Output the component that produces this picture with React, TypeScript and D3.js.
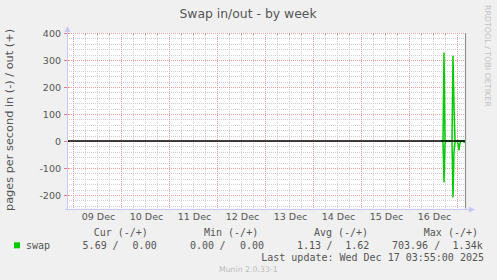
import React from "react";
import * as d3 from "d3";

const W = 497;
const H = 280;

// ---- data ----
const chartTitle = "Swap in/out - by week";
const yAxisTitle = "pages per second in (-) / out (+)";
const watermark = "RRDTOOL / TOBI OETIKER";
const footer = "Munin 2.0.33-1";
const lastUpdate = "Last update: Wed Dec 17 03:55:00 2025";

const sampleTimes = [
  "2025-12-16T16:00Z", "2025-12-16T16:30Z", "2025-12-16T17:00Z", "2025-12-16T17:30Z",
  "2025-12-16T18:00Z", "2025-12-16T18:30Z", "2025-12-16T19:00Z", "2025-12-16T19:30Z",
  "2025-12-16T20:00Z", "2025-12-16T20:30Z", "2025-12-16T21:00Z", "2025-12-16T21:30Z",
  "2025-12-16T22:00Z", "2025-12-16T22:30Z", "2025-12-16T23:00Z", "2025-12-16T23:30Z",
  "2025-12-17T00:00Z", "2025-12-17T00:30Z", "2025-12-17T01:00Z", "2025-12-17T01:30Z",
  "2025-12-17T02:00Z", "2025-12-17T02:30Z", "2025-12-17T03:00Z", "2025-12-17T03:30Z",
  "2025-12-17T04:00Z",
];
const swapOut = [
  0, 0, 0, 328, 0, 0, 0, 0, 0, 0, 0, 0, 316, 130, 0, 0, 0, 0, 0, 0, 0, 0, 0, 0, 0,
];
const swapIn = [
  0, 0, 0, 154, 10, 0, 0, 0, 0, 0, 0, 0, 209, 40, 5, 0, 0, 8, 35, 8, 0, 0, 0, 5, 5,
];

const yTickValues = [400, 300, 200, 100, 0, -100, -200];
const xTickLabels = ["09 Dec", "10 Dec", "11 Dec", "12 Dec", "13 Dec", "14 Dec", "15 Dec", "16 Dec"];

const legendHeaders = ["Cur (-/+)", "Min (-/+)", "Avg (-/+)", "Max (-/+)"];
const legendIn = ["5.69", "0.00", "1.13", "703.96"];
const legendOut = ["0.00", "0.00", "1.62", "1.34k"];

// ---- layout ----
const L = 67, R = 467, T = 33, B = 208.5;
const xStart = new Date("2025-12-08T21:00Z");
const xEnd = new Date("2025-12-17T05:00Z");

const x = d3.scaleUtc().domain([xStart, xEnd]).range([L, R]);
const y = d3.scaleLinear().domain([-250, 400]).range([B, T]);

const mono = "'DejaVu Sans Mono', monospace";
const sans = "'DejaVu Sans', sans-serif";
const textCol = "#555555";

export default function App() {
  const times = sampleTimes.map((s) => new Date(s));
  const outPts: [number, number][] = times.map((t, i) => [x(t), y(swapOut[i])]);
  const inPts: [number, number][] = times.map((t, i) => [x(t), y(-swapIn[i])]);
  const line = d3.line();

  const minorY = d3.range(-240, 401, 20).filter((v) => v % 100 !== 0);
  const majorY = yTickValues;
  const days = d3.utcDay.range(d3.utcDay.ceil(xStart), xEnd);
  const sixH = d3.utcHour.every(6)!.range(xStart, xEnd).filter((d) => d.getUTCHours() !== 0);
  const noons = days.slice(0, xTickLabels.length).map((d) => d3.utcHour.offset(d, 12));

  const inX = [82.6, 190.0, 297.0, 392.0];
  const slashX = [112.6, 219.4, 326.6, 434.3];
  const outX = [132.6, 240.0, 345.3, 452.6];
  const headX = [93.7, 204.0, 313.9, 423.8];

  return (
    <svg width={W} height={H} style={{ position: "absolute", left: 0, top: 0, display: "block" }}>
      <rect x={0} y={0} width={W} height={H} fill="#f0f0f0" />
      <rect x={L} y={T} width={R - 1 - L} height={B - T} fill="#ffffff" />

      {/* minor grid */}
      {minorY.map((v) => (
        <line key={"my" + v} x1={L} x2={R - 1} y1={Math.round(y(v)) + 0.5} y2={Math.round(y(v)) + 0.5}
          stroke="#cfcfcf" strokeDasharray="1,1" />
      ))}
      {sixH.map((d) => (
        <line key={"mx" + d.getTime()} x1={Math.round(x(d)) + 0.5} x2={Math.round(x(d)) + 0.5} y1={T} y2={B}
          stroke="#cfcfcf" strokeDasharray="1,1" />
      ))}
      {/* major grid */}
      {majorY.map((v) => (
        <line key={"My" + v} x1={L} x2={R - 1} y1={Math.round(y(v)) + 0.5} y2={Math.round(y(v)) + 0.5}
          stroke="#eba0a0" strokeDasharray="1,1" />
      ))}
      {days.map((d) => (
        <line key={"Mx" + d.getTime()} x1={Math.round(x(d)) + 0.5} x2={Math.round(x(d)) + 0.5} y1={T} y2={B + 3}
          stroke="#eba0a0" strokeDasharray="1,1" />
      ))}
      {/* ticks */}
      {majorY.map((v) => (
        <line key={"ty" + v} x1={L - 3} x2={L + 2} y1={Math.round(y(v)) + 0.5} y2={Math.round(y(v)) + 0.5}
          stroke="#e08080" />
      ))}
      {sixH.map((d) => (
        <line key={"tx" + d.getTime()} x1={Math.round(x(d)) + 0.5} x2={Math.round(x(d)) + 0.5} y1={T} y2={T + 2}
          stroke="#a0a0a0" />
      ))}

      {/* data */}
      <path d={line(outPts)!} fill="none" stroke="#00cc00" strokeWidth={1.5} />
      <path d={line(inPts)!} fill="none" stroke="#00cc00" strokeWidth={1.5} />

      {/* zero line */}
      <line x1={L} x2={R - 1} y1={y(0)} y2={y(0)} stroke="#000000" strokeWidth={1.4} />

      {/* right frame */}
      <line x1={R - 1.5} x2={R - 1.5} y1={T} y2={B} stroke="#909090" strokeWidth={1.2} />

      {/* axes */}
      <line x1={L + 0.5} x2={L + 0.5} y1={B + 2} y2={30} stroke="#c8c8f4" />
      <path d={`M${L - 2.5},${32} L${L + 0.5},${26} L${L + 3.5},${32} Z`} fill="#c8c8f4" />
      <line x1={L - 2} x2={470} y1={Math.round(B) + 0.5} y2={Math.round(B) + 0.5} stroke="#c8c8f4" />
      <path d={`M${469},${Math.round(B) - 2.5} L${475},${Math.round(B) + 0.5} L${469},${Math.round(B) + 3.5} Z`} fill="#c8c8f4" />

      {/* y labels */}
      {yTickValues.map((v) => (
        <text key={"yl" + v} x={61} y={y(v) + 3.5} textAnchor="end" fontFamily={sans} fontSize={9.5} fill={textCol}>
          {String(v)}
        </text>
      ))}
      {/* x labels */}
      {noons.map((d, i) => (
        <text key={"xl" + i} x={x(d) + 1.5} y={219.5} textAnchor="middle" fontFamily={sans} fontSize={9.5} fill={textCol}>
          {xTickLabels[i]}
        </text>
      ))}

      {/* title */}
      <text x={248} y={17.5} textAnchor="middle" fontFamily={sans} fontSize={12.4} fill={textCol}>{chartTitle}</text>

      {/* y axis title */}
      <text transform={`translate(13.2,120) rotate(-90)`} textAnchor="middle" fontFamily={sans} fontSize={11.3} fill={textCol}>
        {yAxisTitle}
      </text>

      {/* watermark */}
      <text transform={`translate(485,5) rotate(90)`} textAnchor="start" fontFamily={sans} fontSize={7.9} fill="#c0c0c0">
        {watermark}
      </text>

      {/* legend */}
      {legendHeaders.map((h, i) => (
        <text key={"lh" + i} x={headX[i]} y={236} fontFamily={mono} fontSize={10} fill={textCol}>{h}</text>
      ))}
      <rect x={14} y={242.3} width={6} height={6} fill="#00cc00" />
      <text x={25.9} y={248.5} fontFamily={mono} fontSize={10} fill={textCol}>swap</text>
      {legendIn.map((v, i) => (
        <g key={"lv" + i}>
          <text x={inX[i]} y={248.5} fontFamily={mono} fontSize={10} fill={textCol}>{v}</text>
          <text x={slashX[i]} y={248.5} fontFamily={mono} fontSize={10} fill={textCol}>/</text>
          <text x={outX[i]} y={248.5} fontFamily={mono} fontSize={10} fill={textCol}>{legendOut[i]}</text>
        </g>
      ))}
      <text x={484} y={260.5} textAnchor="end" fontFamily={mono} fontSize={10} fill={textCol}>{lastUpdate}</text>

      <text x={248.3} y={272} textAnchor="middle" fontFamily={sans} fontSize={7.8} fill="#bbbbbb">{footer}</text>
    </svg>
  );
}
